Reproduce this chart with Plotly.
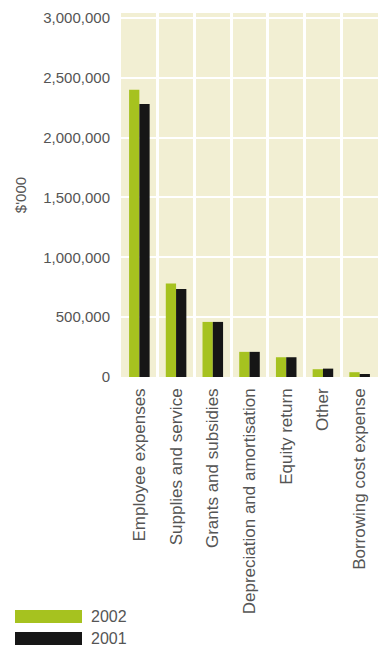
import plotly.graph_objects as go

categories = ["Employee expenses", "Supplies and service", "Grants and subsidies",
              "Depreciation and amortisation", "Equity return", "Other",
              "Borrowing cost expense"]
values_2002 = [2400000, 780000, 460000, 210000, 165000, 65000, 40000]
values_2001 = [2280000, 735000, 460000, 210000, 165000, 70000, 25000]
series_names = ["2002", "2001"]
y_tickvals = [0, 500000, 1000000, 1500000, 2000000, 2500000, 3000000]

GREEN = "#a6c21f"
BLACK = "#161616"
BEIGE = "#f2efd3"
GREY = "#555555"
FONT = "Liberation Sans, Arial, sans-serif"

fig = go.Figure()
fig.add_trace(go.Bar(x=categories, y=values_2002, name=series_names[0],
                     marker=dict(color=GREEN, line=dict(width=0)), showlegend=False))
fig.add_trace(go.Bar(x=categories, y=values_2001, name=series_names[1],
                     marker=dict(color=BLACK, line=dict(width=0)), showlegend=False))

fig.update_layout(
    width=378, height=648,
    margin=dict(l=121, r=0, t=13, b=271),
    paper_bgcolor="white",
    plot_bgcolor=BEIGE,
    barmode="group",
    bargap=0.44,
    bargroupgap=0.0,
    font=dict(family=FONT, color=GREY),
)
fig.update_xaxes(
    type="category",
    tickson="boundaries",
    showgrid=True, gridcolor="white", gridwidth=3,
    tickangle=-90,
    tickfont=dict(size=17, color=GREY, family=FONT),
    ticks="", ticklabelstandoff=7,
    showline=False, zeroline=False,
)
fig.update_yaxes(
    range=[0, 3040000],
    tickvals=y_tickvals,
    tickformat=",d",
    tickfont=dict(size=15, color=GREY, family=FONT),
    showgrid=True, gridcolor="white", gridwidth=2,
    zeroline=False, showline=False, ticks="",
    ticklabelstandoff=10,
    title=dict(text="$'000", font=dict(size=15, color=GREY, family=FONT), standoff=13),
)

# Legend drawn as swatches + labels at the bottom left
legend_items = [(series_names[0], GREEN, 0), (series_names[1], BLACK, 1)]
for name, color, i in legend_items:
    y0 = 648 - 610 - i * 22
    fig.add_shape(type="rect", xref="paper", yref="paper",
                  x0=(15 - 121) / 257, x1=(82 - 121) / 257,
                  y0=(y0 - 13 - 271) / 364, y1=(y0 - 271) / 364,
                  fillcolor=color, line=dict(width=0))
    fig.add_annotation(text=name, xref="paper", yref="paper",
                       x=(89 - 121) / 257, y=(y0 - 6.5 - 271) / 364,
                       xanchor="left", yanchor="middle", showarrow=False,
                       font=dict(size=16, color=GREY, family=FONT))

fig.write_html("out.html")
